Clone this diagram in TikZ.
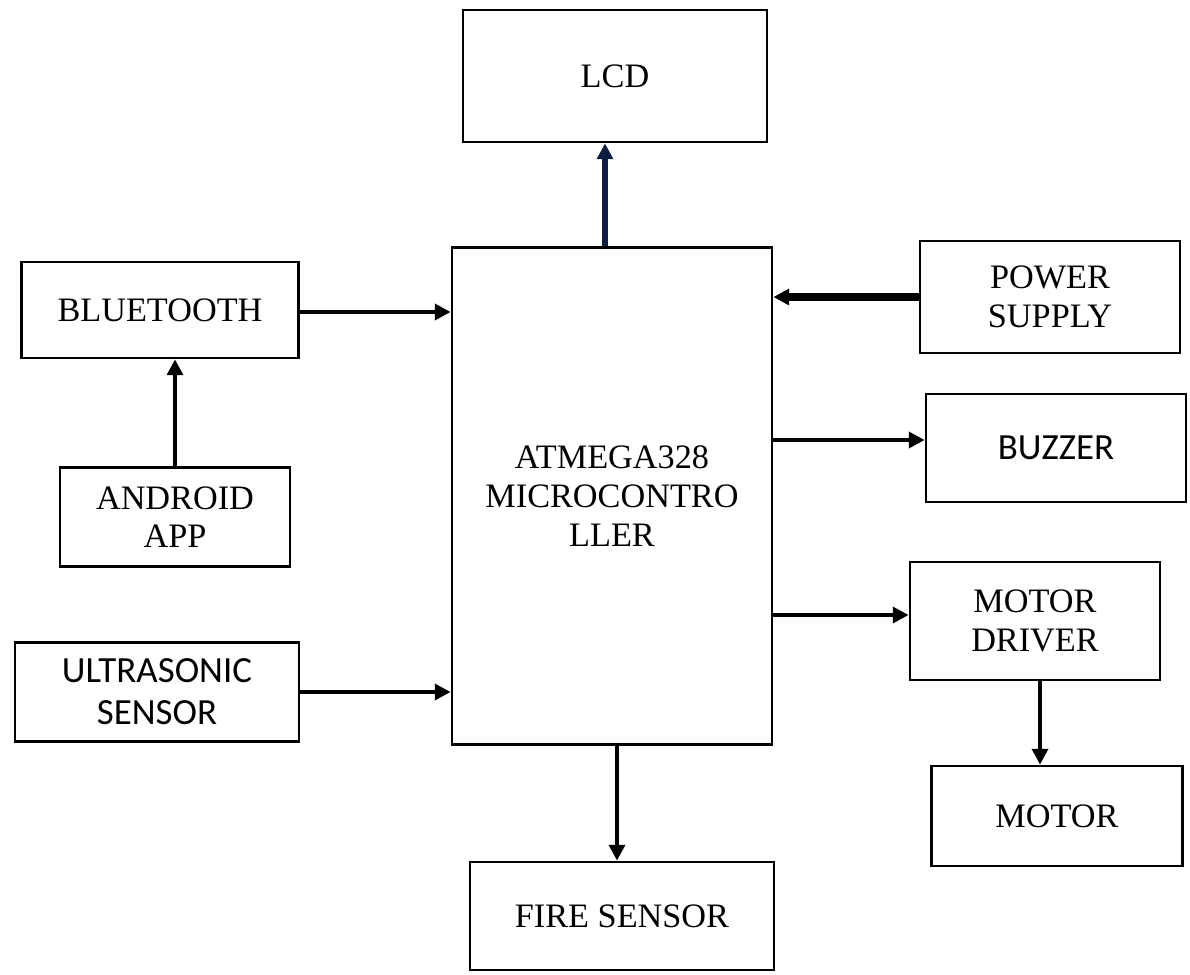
\documentclass[tikz,border=0pt]{standalone}
\usepackage{fontspec}
\setmainfont{Liberation Serif}
\newfontfamily\calibrifont{Carlito}
\usepackage{tikz}
\usetikzlibrary{arrows.meta}
\definecolor{lcdnavy}{RGB}{12,28,66}

\begin{document}
\begin{tikzpicture}[x=0.02cm, y=-0.02cm,
  box/.style={rectangle, draw=black, line width=1.6pt, fill=white, align=center,
              inner sep=0pt, font=\fontsize{19.5}{22}\selectfont},
  sansbox/.style={box, font=\calibrifont\fontsize{21}{24}\selectfont},
  link/.style={-{Triangle[length=9pt, width=9pt]}, line width=2.4pt, black},
]
\useasboundingbox (0,0) rectangle (1190,974);
\node[box, minimum width=6.08cm, minimum height=2.64cm] (lcd) at (615,76) {LCD};
\node[box, minimum width=6.4cm, minimum height=9.94cm] (mcu) at (612,496) {ATMEGA328\\MICROCONTRO\\LLER};
\node[box, minimum width=5.54cm, minimum height=1.92cm] (bt) at (160,310) {BLUETOOTH};
\node[box, minimum width=4.6cm, minimum height=1.98cm] (app) at (175,517) {ANDROID\\APP};
\node[sansbox, minimum width=5.68cm, minimum height=1.98cm] (us) at (157,692) {ULTRASONIC\\SENSOR};
\node[box, minimum width=5.2cm, minimum height=2.24cm] (ps) at (1050,297) {POWER\\SUPPLY};
\node[sansbox, minimum width=5.2cm, minimum height=2.16cm] (bz) at (1056,448) {BUZZER};
\node[box, minimum width=5.0cm, minimum height=2.36cm] (md) at (1035,621) {MOTOR\\DRIVER};
\node[box, minimum width=5.02cm, minimum height=2.0cm] (mot) at (1057,816) {MOTOR};
\node[box, minimum width=6.08cm, minimum height=2.16cm] (fire) at (622,916) {FIRE SENSOR};

\draw[link, lcdnavy, line width=3.8pt] ([shift={(-7,0)}]mcu.north) -- ([shift={(-7,0)}]mcu.north |- lcd.south);
\draw[link] ([shift={(0,2)}]bt.east) -- ([shift={(0,2)}]bt.east -| mcu.west);
\draw[link] (app.north) -- (app.north |- bt.south);
\draw[link] (us.east) -- (us.east -| mcu.west);
\draw[link, line width=4.4pt] (ps.west) -- (ps.west -| mcu.east);
\draw[link] ([shift={(0,-8)}]bz.west -| mcu.east) -- ([shift={(0,-8)}]bz.west);
\draw[link] ([shift={(0,-6)}]md.west -| mcu.east) -- ([shift={(0,-6)}]md.west);
\draw[link] ([shift={(5,0)}]md.south) -- ([shift={(5,0)}]md.south |- mot.north);
\draw[link] ([shift={(5,0)}]mcu.south) -- ([shift={(5,0)}]mcu.south |- fire.north);
\end{tikzpicture}
\end{document}
